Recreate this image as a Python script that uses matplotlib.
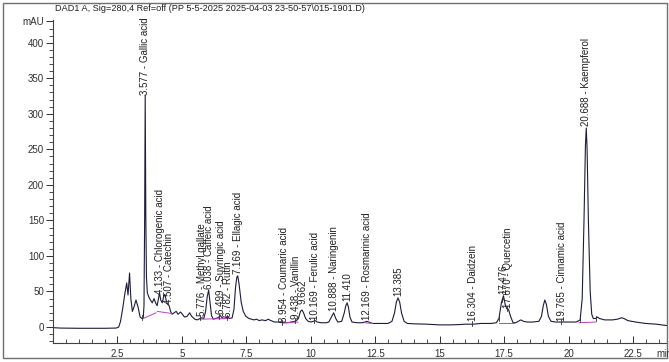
import numpy as np
import matplotlib.pyplot as plt
from matplotlib.patches import Rectangle

plt.rcParams['font.family'] = ['Liberation Sans', 'DejaVu Sans']

titolo = r'DAD1 A, Sig=280,4 Ref=off (PP 5-5-2025 2025-04-03 23-50-57\015-1901.D)'

tempi = [0.00, 0.05, 0.30, 1.00, 2.00, 2.45, 2.55, 2.62, 2.70, 2.78, 2.86, 2.91, 2.97, 3.02, 3.08,
         3.14, 3.22, 3.30, 3.38, 3.45, 3.50, 3.53, 3.555, 3.577, 3.60, 3.625, 3.66, 3.72, 3.78, 3.85,
         3.92, 3.98, 4.04, 4.10, 4.133, 4.18, 4.24, 4.30, 4.34, 4.40, 4.45, 4.507, 4.56, 4.62, 4.70,
         4.78, 4.85, 4.95, 5.02, 5.10, 5.20, 5.30, 5.38, 5.50, 5.60, 5.70, 5.776, 5.85, 5.92, 5.98,
         6.038, 6.09, 6.15, 6.22, 6.30, 6.40, 6.499, 6.56, 6.65, 6.72, 6.782, 6.85, 6.95, 7.02, 7.08,
         7.13, 7.169, 7.22, 7.30, 7.38, 7.48, 7.60, 7.80, 7.90, 8.00, 8.10, 8.25, 8.35, 8.45, 8.60,
         8.75, 8.90, 8.954, 9.10, 9.25, 9.38, 9.438, 9.52, 9.60, 9.662, 9.72, 9.80, 9.90, 10.00, 10.10,
         10.169, 10.25, 10.40, 10.60, 10.70, 10.80, 10.888, 10.97, 11.05, 11.20, 11.30, 11.36, 11.41, 11.46, 11.52,
         11.60, 11.80, 12.00, 12.10, 12.169, 12.25, 12.40, 12.70, 13.00, 13.15, 13.25, 13.32, 13.385, 13.45, 13.52,
         13.62, 13.75, 14.00, 14.50, 15.00, 15.40, 15.80, 16.00, 16.304, 16.60, 17.00, 17.20, 17.30, 17.40, 17.476,
         17.54, 17.60, 17.67, 17.75, 17.85, 17.95, 18.05, 18.15, 18.25, 18.40, 18.60, 18.85, 18.95, 19.02, 19.08,
         19.14, 19.22, 19.32, 19.50, 19.765, 20.00, 20.30, 20.45, 20.53, 20.60, 20.655, 20.688, 20.72, 20.77, 20.84,
         20.90, 20.96, 21.05, 21.12, 21.20, 21.40, 21.70, 21.90, 22.05, 22.15, 22.30, 22.60, 23.00, 23.40, 23.82]
segnale = [0, -1, -1.5, -1.8, -1.8, -1.5, 0, 8, 25, 45, 62, 45, 76, 40, 22,
           28, 38, 28, 14, 12, 13, 30, 150, 326, 160, 70, 48, 42, 38, 34,
           40, 34, 30, 42, 48, 38, 34, 44, 46, 36, 32, 30, 22, 18, 20,
           22, 18, 21, 18, 14, 15, 20, 15, 11, 10, 12, 13, 12, 22, 42,
           52, 35, 16, 11, 12, 13, 16, 13, 12, 13, 14, 12, 13, 25, 55,
           70, 72, 60, 35, 22, 15, 12, 10, 11, 9, 10, 9, 11, 9, 7,
           7, 6, 6, 6, 7, 8, 9, 12, 22, 24, 20, 12, 8, 7, 8,
           9, 7, 6, 6, 7, 14, 20, 12, 7, 8, 20, 30, 34, 28, 14,
           7, 6, 6, 7, 8, 7, 5, 5, 5, 8, 20, 35, 41, 35, 20,
           8, 5, 4.5, 4, 3, 3, 3.5, 4, 4, 5, 5, 6, 12, 35, 44,
           32, 26, 25, 15, 6, 6, 8, 10, 8, 7, 7, 8, 15, 30, 38,
           32, 15, 8, 7, 7, 7, 7, 10, 40, 150, 255, 280, 250, 150, 50,
           18, 12, 12, 14, 12, 10, 10, 11, 13, 12, 9, 7, 5, 4, 2]

# picchi etichettati
tr_picchi = [3.577, 4.133, 4.507, 5.776, 6.038, 6.499, 6.782, 7.169, 8.954, 9.438, 9.662,
             10.169, 10.888, 11.410, 12.169, 13.385, 16.304, 17.476, 17.670, 19.765, 20.688]
nomi_picchi = ['Gallic acid', 'Chlorogenic acid', 'Catechin', 'Methyl gallate', 'Caffeic acid',
               'Suyringic acid', 'Rutin', 'Ellagic acid', 'Coumaric acid', 'Vanillin', '',
               'Ferulic acid', 'Naringenin', '', 'Rosmarinic acid', '', 'Daidzein', '',
               'Quercetin', 'Cinnamic acid', 'Kaempferol']
quota_etichette = [327, 46, 32, 15, 53, 18, 14, 74, 7, 11, 33,
                   10, 22, 36, 10, 43, 8, 46, 27, 9, 283]

# linee di base dell'integrazione (t1, v1, t2, v2)
basi = [(3.50, 12, 4.00, 20), (4.05, 22, 4.60, 19), (5.70, 11, 6.80, 12), (8.90, 6, 9.50, 7),
        (12.10, 6, 12.40, 5), (17.30, 5, 17.90, 5), (20.40, 6, 21.05, 7)]
tacche = [3.46, 5.72, 6.45, 6.74, 8.90, 9.40, 10.12, 16.25, 17.30, 17.62, 19.70, 20.45, 21.05]

fig = plt.figure(figsize=(6.69, 3.62), dpi=100)
ax = fig.add_axes([53 / 669, 19 / 362, 614 / 669, 323 / 362])
ax.set_xlim(0, 23.82)
ax.set_ylim(-22.5, 432)

ax.plot(tempi, segnale, color='#1c1c3c', linewidth=0.8)
for t1, v1, t2, v2 in basi:
    ax.plot([t1, t2], [v1, v2], color='#c040c0', linewidth=0.7)
for t in tacche:
    v = np.interp(t, tempi, segnale)
    ax.plot([t, t], [v - 3, v + 4], color='#303030', linewidth=0.6)

for tr, nome, q in zip(tr_picchi, nomi_picchi, quota_etichette):
    testo = f'{tr:.3f} - {nome}' if nome else f'{tr:.3f}'
    ax.text(tr, q, testo, rotation=90, ha='center', va='bottom', fontsize=7, color='#202020')

for s in ['top', 'right']:
    ax.spines[s].set_visible(False)
for s in ['left', 'bottom']:
    ax.spines[s].set_color('#404040')
    ax.spines[s].set_linewidth(0.8)

ax.set_yticks([0, 50, 100, 150, 200, 250, 300, 350, 400, 430])
ax.set_yticklabels(['0', '50', '100', '150', '200', '250', '300', '350', '400', 'mAU'])
ax.set_yticks(np.arange(-20, 431, 10), minor=True)
ax.set_xticks([2.5, 5, 7.5, 10, 12.5, 15, 17.5, 20, 22.5])
ax.set_xticklabels(['2.5', '5', '7.5', '10', '12.5', '15', '17.5', '20', '22.5'])
ax.set_xticks(np.arange(0.5, 23.8, 0.5), minor=True)
ax.tick_params(axis='y', which='major', direction='out', length=5, width=0.7, labelsize=7, colors='#303030', pad=1.5)
ax.tick_params(axis='y', which='minor', direction='out', length=3, width=0.6, colors='#303030')
ax.tick_params(axis='x', which='major', direction='in', length=5, width=0.7, labelsize=7, colors='#303030', pad=4)
ax.tick_params(axis='x', which='minor', direction='in', length=3, width=0.6, colors='#303030')

fig.text(656 / 669, 1 - 357 / 362, 'min', fontsize=7, color='#303030')
fig.text(55 / 669, 1 - 11 / 362, titolo, fontsize=6.6, color='#202020', va='baseline')
fig.patches.append(Rectangle((3 / 669, 4 / 362), 664 / 669, 355 / 362, transform=fig.transFigure,
                             fill=False, edgecolor='#707070', linewidth=1))

plt.savefig('out.png', dpi=100)
